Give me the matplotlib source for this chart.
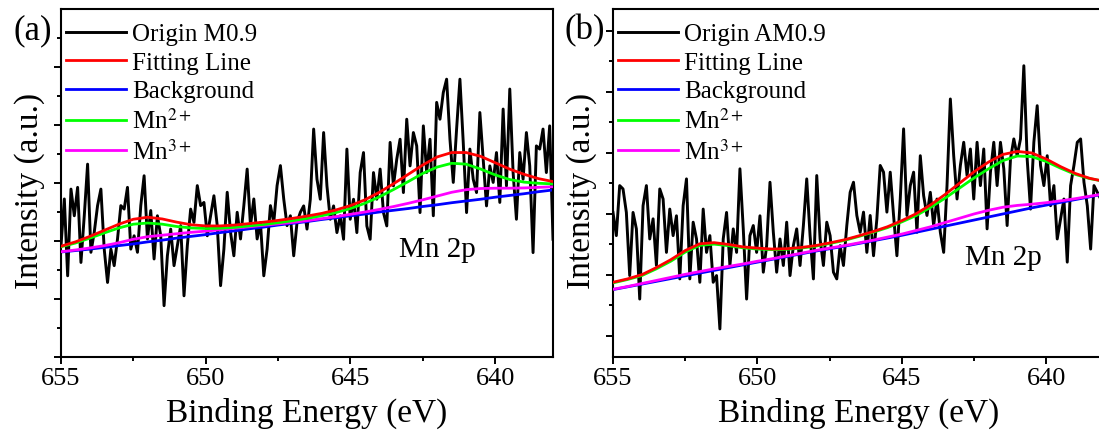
import numpy as np
import matplotlib
matplotlib.use('Agg')
import matplotlib.pyplot as plt
from matplotlib.ticker import MultipleLocator

plt.rcParams['font.family'] = ['Liberation Serif', 'DejaVu Serif']
plt.rcParams['mathtext.fontset'] = 'stix'

# fitted curves, sampled every 0.5 eV from 655 to 638 eV
fit_energy = np.arange(655, 637.9, -0.5)

# (a) M0.9
a_origin_1 = [3.84, 5.45, 2.80, 5.79, 4.87, 5.85, 3.26, 4.87, 6.65, 3.61,
              4.30, 5.22, 5.79, 3.72, 2.57, 3.72, 3.15, 4.07, 5.22, 5.10,
              5.85, 3.72, 4.18, 3.61, 5.22, 6.25, 4.07, 5.05, 3.38, 4.87,
              4.18, 1.77, 3.49, 4.41, 3.15, 3.84, 4.53, 2.11, 3.84, 5.10,
              4.64, 5.91, 5.22, 5.33, 4.18, 4.87, 5.56, 4.53, 2.46, 3.72,
              5.68, 4.30, 3.49, 4.99, 4.07, 5.22, 6.48, 4.53, 5.45, 4.07,
              4.64, 2.80, 3.72, 5.22, 4.64, 5.91, 6.60, 5.45, 4.53, 4.87,
              3.49, 4.64, 4.99]
a_origin_2 = [5.21, 4.41, 5.44, 7.86, 6.13, 5.44, 7.74, 5.90, 4.75, 5.21,
              4.29, 4.87, 4.06, 7.17, 4.75, 5.44, 4.29, 6.36, 7.05, 4.52,
              4.06, 6.36, 5.44, 6.48, 4.98, 4.52, 7.40, 5.90, 6.82, 7.51,
              5.67, 8.20, 6.59, 7.74, 7.28, 4.98, 7.97, 6.36, 7.51, 4.87,
              8.78, 8.20, 9.12, 9.58, 7.51, 6.02, 7.86, 9.58, 7.40, 4.98,
              7.17, 6.13, 5.67, 8.43, 6.82, 5.21, 6.59, 6.02, 7.05, 5.33,
              8.55, 5.90, 9.24, 6.36, 4.75, 7.05, 6.13, 7.74, 6.59, 3.60,
              7.28, 7.17, 7.86, 6.36, 7.97, 4.06]
a_fit = [3.82, 3.97, 4.16, 4.37, 4.58, 4.75, 4.82, 4.76, 4.65, 4.56,
         4.52, 4.52, 4.55, 4.60, 4.65, 4.71, 4.78, 4.86, 4.95, 5.07,
         5.22, 5.42, 5.68, 5.98, 6.30, 6.62, 6.90, 7.05, 7.05, 6.92,
         6.70, 6.48, 6.30, 6.15, 6.05]
a_bg = [3.62, 3.67, 3.72, 3.78, 3.84, 3.90, 3.97, 4.03, 4.10, 4.16,
        4.22, 4.29, 4.35, 4.42, 4.48, 4.55, 4.61, 4.67, 4.74, 4.80,
        4.87, 4.93, 5.00, 5.06, 5.12, 5.19, 5.25, 5.32, 5.38, 5.44,
        5.51, 5.57, 5.63, 5.70, 5.76]
a_mn2 = [3.80, 3.93, 4.10, 4.28, 4.45, 4.58, 4.62, 4.58, 4.50, 4.45,
         4.43, 4.44, 4.47, 4.52, 4.57, 4.63, 4.70, 4.78, 4.87, 4.98,
         5.12, 5.30, 5.52, 5.78, 6.05, 6.33, 6.55, 6.68, 6.65, 6.48,
         6.28, 6.12, 6.03, 5.99, 5.97]
a_mn3 = [3.63, 3.69, 3.76, 3.84, 3.94, 4.06, 4.15, 4.20, 4.25, 4.30,
         4.34, 4.39, 4.44, 4.49, 4.54, 4.59, 4.64, 4.70, 4.77, 4.84,
         4.92, 5.00, 5.09, 5.19, 5.30, 5.42, 5.55, 5.68, 5.77, 5.81,
         5.82, 5.82, 5.83, 5.85, 5.87]

# (b) AM0.9
b_origin_1 = [5.05, 4.29, 5.93, 5.82, 5.05, 2.98, 5.05, 4.51, 2.21, 5.27,
              5.93, 4.18, 4.84, 3.31, 5.82, 5.49, 3.74, 5.16, 4.29, 4.94,
              2.87, 5.27, 6.15, 2.87, 4.73, 4.18, 2.76, 5.16, 3.74, 4.29,
              2.76, 2.98, 1.23, 4.18, 5.05, 3.31, 4.51, 3.74, 6.48, 4.51,
              2.21, 4.29, 4.62, 3.74, 4.94, 3.09, 3.96, 6.04, 4.40, 3.09,
              4.18, 3.31, 4.73, 2.98, 3.96, 4.51, 3.31, 4.62, 6.15, 4.29,
              2.87, 6.26, 4.18, 3.31, 4.73, 4.29, 3.09, 2.87, 3.96, 3.31,
              4.62, 5.71, 6.04]
b_origin_2 = [4.95, 4.40, 5.06, 3.74, 4.95, 3.63, 4.84, 6.59, 6.37, 5.06,
              6.37, 4.95, 3.63, 5.49, 7.79, 4.95, 5.93, 6.37, 4.40, 6.91,
              5.60, 4.95, 5.71, 4.62, 5.49, 4.40, 3.74, 5.93, 8.77, 6.91,
              5.49, 6.59, 7.35, 6.26, 7.13, 5.49, 7.35, 5.93, 7.13, 4.51,
              6.37, 7.35, 5.93, 7.35, 6.48, 4.62, 6.80, 7.46, 6.91, 7.46,
              9.86, 6.80, 5.16, 7.35, 8.55, 6.59, 5.93, 6.91, 5.27, 5.93,
              4.18, 4.84, 5.49, 3.42, 5.93, 6.59, 7.35, 7.46, 6.04, 5.27,
              3.85, 5.93, 5.71, 5.49, 5.93]
b_fit = [2.76, 2.87, 3.01, 3.24, 3.50, 3.80, 4.02, 4.06, 4.00, 3.92,
         3.88, 3.85, 3.86, 3.90, 3.96, 4.05, 4.15, 4.28, 4.42, 4.58,
         4.78, 5.01, 5.30, 5.64, 6.01, 6.38, 6.70, 6.95, 7.05, 7.00,
         6.80, 6.55, 6.33, 6.17, 6.07]
b_bg = [2.52, 2.61, 2.70, 2.79, 2.88, 2.97, 3.06, 3.15, 3.24, 3.33,
        3.42, 3.51, 3.60, 3.69, 3.78, 3.86, 3.94, 4.03, 4.12, 4.21,
        4.30, 4.40, 4.50, 4.60, 4.70, 4.80, 4.90, 5.00, 5.10, 5.20,
        5.29, 5.38, 5.47, 5.56, 5.66]
b_mn2 = [2.74, 2.85, 2.98, 3.20, 3.45, 3.75, 3.97, 4.01, 3.96, 3.89,
         3.85, 3.83, 3.84, 3.88, 3.94, 4.03, 4.13, 4.26, 4.40, 4.55,
         4.74, 4.95, 5.22, 5.52, 5.85, 6.18, 6.48, 6.75, 6.90, 6.88,
         6.72, 6.50, 6.30, 6.16, 6.07]
b_mn3 = [2.53, 2.62, 2.72, 2.82, 2.92, 3.02, 3.11, 3.20, 3.28, 3.36,
         3.45, 3.53, 3.62, 3.71, 3.80, 3.88, 3.96, 4.05, 4.14, 4.24,
         4.34, 4.46, 4.58, 4.72, 4.86, 5.00, 5.12, 5.22, 5.28, 5.32,
         5.37, 5.43, 5.50, 5.58, 5.66]


def draw_panel(ax, origin, fit, bg, mn2, mn3, name, tag, ylim, major_start, note_pos):
    energy = np.linspace(655, 638, len(origin))
    ax.plot(energy, origin, color='black', lw=2.1, label='Origin ' + name, zorder=1)
    ax.plot(fit_energy, fit, color='#ff0000', lw=2.0, label='Fitting Line', zorder=5)
    ax.plot(fit_energy, bg, color='#0000ff', lw=2.0, label='Background', zorder=2)
    ax.plot(fit_energy, mn2, color='#00ff00', lw=2.0, label=r'Mn$^{2+}$', zorder=4)
    ax.plot(fit_energy, mn3, color='#ff00ff', lw=2.0, label=r'Mn$^{3+}$', zorder=3)

    ax.set_xlim(655, 638)
    ax.set_ylim(*ylim)
    ax.xaxis.set_major_locator(MultipleLocator(5))
    ax.xaxis.set_minor_locator(MultipleLocator(2.5))
    ax.set_yticks(np.arange(major_start, ylim[1], 2))
    ax.set_yticks(np.arange(major_start + 1, ylim[1], 2), minor=True)
    ax.set_yticklabels([])
    ax.tick_params(which='both', direction='out', width=1.4, labelsize=19,
                   top=False, right=False, pad=2)
    ax.tick_params(which='major', length=5)
    ax.tick_params(which='minor', length=3)
    for sp in ax.spines.values():
        sp.set_linewidth(1.5)

    ax.set_xlabel('Binding Energy (eV)', fontsize=24, labelpad=6)
    ax.text(-0.063, 0.48, 'Intensity (a.u.)', transform=ax.transAxes, rotation=90,
            ha='center', va='center', fontsize=24)
    ax.text(-0.057, 0.94, tag, transform=ax.transAxes, ha='center', va='center',
            fontsize=25)
    ax.text(note_pos[0], note_pos[1], 'Mn 2p', ha='center', va='center', fontsize=21)

    ax.legend(loc='upper left', bbox_to_anchor=(0.01, 0.96), frameon=False,
              fontsize=18, handlelength=2.4, handletextpad=0.25, labelspacing=0.24,
              borderpad=0, borderaxespad=0)


fig = plt.figure(figsize=(10.99, 4.39), dpi=100)
ax1 = fig.add_axes([61 / 1099, 81 / 439, 492 / 1099, 348 / 439])
ax2 = fig.add_axes([613 / 1099, 81 / 439, 491 / 1099, 348 / 439])

draw_panel(ax1, a_origin_1 + a_origin_2, a_fit, a_bg, a_mn2, a_mn3, 'M0.9', '(a)',
           (0, 12), 0, (642.0, 3.72))
draw_panel(ax2, b_origin_1 + b_origin_2, b_fit, b_bg, b_mn2, b_mn3, 'AM0.9', '(b)',
           (0.31, 11.72), 1, (641.5, 3.59))

fig.savefig('out.png', dpi=100)
